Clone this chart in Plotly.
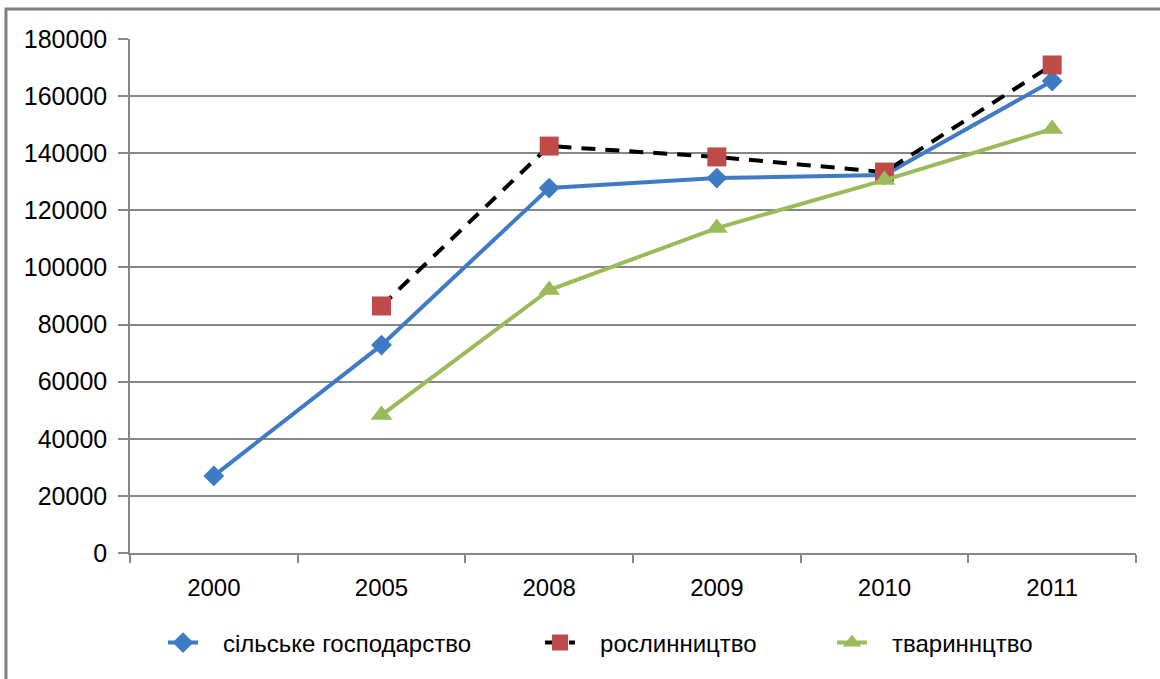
import plotly.graph_objects as go

years = ["2000", "2005", "2008", "2009", "2010", "2011"]
agriculture = [27000, 72800, 127800, 131300, 132400, 165300]
crops = [None, 86500, 142500, 138700, 133400, 170900]
livestock = [None, 48300, 92100, 113800, 130600, 148500]

names = ["сільське господарство", "рослинництво", "тваринн" + "цтво"]
pad = "   "

fig = go.Figure()
fig.add_trace(go.Scatter(
    x=years, y=agriculture, name=pad + names[0], mode="lines+markers", legend="legend",
    line=dict(color="#3E7BC4", width=4),
    marker=dict(symbol="diamond", size=16, color="#3E7BC4", line=dict(width=0)),
))
fig.add_trace(go.Scatter(
    x=years, y=crops, name=pad + names[1], mode="lines+markers", legend="legend2",
    line=dict(color="#000000", width=4, dash="14px,10px"),
    marker=dict(symbol="square", size=19, color="#BE4B48", line=dict(width=0)),
))
fig.add_trace(go.Scatter(
    x=years, y=livestock, name=pad + names[2], mode="lines+markers", legend="legend3",
    line=dict(color="#9BBB59", width=4),
    marker=dict(symbol="triangle-up", size=19, color="#9BBB59", line=dict(width=0)),
))

legend_font = dict(family="Liberation Sans, Arial", size=24, color="#000000")


def leg(x):
    return dict(orientation="h", x=x, xanchor="left", y=-0.175, yanchor="middle",
                font=legend_font, bgcolor="rgba(0,0,0,0)", itemwidth=30)


fig.update_layout(
    width=1160, height=679,
    margin=dict(l=130, r=24, t=39, b=126, autoexpand=False),
    paper_bgcolor="white", plot_bgcolor="white",
    font=dict(family="Liberation Sans, Arial, sans-serif", size=24, color="#000000"),
    showlegend=True,
    legend=leg(0.0328),
    legend2=leg(0.4076),
    legend3=leg(0.6978),
    xaxis=dict(
        type="category", range=[-0.5, 5.5], tickson="boundaries", ticks="outside", ticklen=8,
        tickcolor="#868686", tickwidth=1.5, showline=True, linecolor="#868686",
        linewidth=1.5, showgrid=False, zeroline=False, ticklabelstandoff=12,
        tickfont=dict(size=24), tickangle=0, automargin=False,
    ),
    yaxis=dict(
        range=[0, 180000], tickvals=[0, 20000, 40000, 60000, 80000, 100000, 120000, 140000, 160000, 180000],
        tickformat="d", ticks="outside", ticklen=10, tickcolor="#868686", tickwidth=1.5,
        showline=True, linecolor="#868686", linewidth=1.5,
        showgrid=True, gridcolor="#868686", gridwidth=1.5, zeroline=False,
        ticklabelstandoff=6, tickfont=dict(size=25), automargin=False,
    ),
    shapes=[dict(
        type="rect", xref="paper", yref="paper",
        x0=-0.1233, x1=1.2, y0=-0.5, y1=1.0584,
        line=dict(color="#7F7F7F", width=3), fillcolor="rgba(0,0,0,0)", layer="below",
    )],
)

fig.write_html("out.html", config={"displayModeBar": False},
               post_script="document.body.style.margin='0';")
